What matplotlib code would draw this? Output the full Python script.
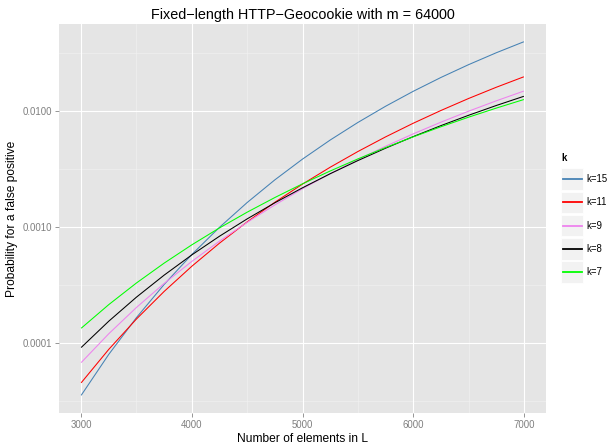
import matplotlib
matplotlib.use("Agg")
import matplotlib.pyplot as plt
from matplotlib.patches import Rectangle
from matplotlib.lines import Line2D
from matplotlib.ticker import FixedLocator, NullFormatter

plt.rcParams['font.family'] = ['Liberation Sans', 'DejaVu Sans']

# ---- data ----
n_elements = [3000, 3250, 3500, 3750, 4000, 4250, 4500, 4750, 5000,
              5250, 5500, 5750, 6000, 6250, 6500, 6750, 7000]
k15 = [3.539e-5, 7.990e-5, 1.657e-4, 3.197e-4, 5.791e-4, 9.935e-4, 1.624e-3, 2.546e-3, 3.844e-3,
       5.611e-3, 7.949e-3, 1.096e-2, 1.475e-2, 1.941e-2, 2.503e-2, 3.169e-2, 3.946e-2]
k11 = [4.538e-5, 8.826e-5, 1.611e-4, 2.783e-4, 4.587e-4, 7.254e-4, 1.106e-3, 1.632e-3, 2.341e-3,
       3.271e-3, 4.466e-3, 5.969e-3, 7.827e-3, 1.008e-2, 1.279e-2, 1.598e-2, 1.969e-2]
k9 = [6.778e-5, 1.203e-4, 2.026e-4, 3.262e-4, 5.049e-4, 7.552e-4, 1.096e-3, 1.548e-3, 2.135e-3,
      2.881e-3, 3.813e-3, 4.957e-3, 6.342e-3, 7.995e-3, 9.943e-3, 1.221e-2, 1.483e-2]
k8 = [9.144e-5, 1.543e-4, 2.486e-4, 3.846e-4, 5.745e-4, 8.323e-4, 1.174e-3, 1.615e-3, 2.176e-3,
      2.875e-3, 3.733e-3, 4.770e-3, 6.007e-3, 7.466e-3, 9.166e-3, 1.113e-2, 1.337e-2]
k7 = [1.340e-4, 2.144e-4, 3.293e-4, 4.881e-4, 7.016e-4, 9.815e-4, 1.341e-3, 1.793e-3, 2.354e-3,
      3.036e-3, 3.857e-3, 4.832e-3, 5.975e-3, 7.302e-3, 8.829e-3, 1.057e-2, 1.254e-2]

series_labels = ["k=15", "k=11", "k=9", "k=8", "k=7"]
series_values = [k15, k11, k9, k8, k7]
series_colors = ["#4682B4", "#FF0000", "#EE82EE", "#000000", "#00FF00"]

x_ticks = [3000, 4000, 5000, 6000, 7000]
x_minor = [3500, 4500, 5500, 6500]
y_ticks = [1e-4, 1e-3, 1e-2]
y_tick_labels = ["0.0001", "0.0010", "0.0100"]
y_minor = [10 ** -4.5, 10 ** -3.5, 10 ** -2.5, 10 ** -1.5]

W, H, DPI = 609, 445, 72
fig = plt.figure(figsize=(W / DPI, H / DPI), dpi=DPI)
fig.patch.set_facecolor("white")

# panel in pixel coordinates
pl, pr, pt, pb = 59, 546, 24, 413
ax = fig.add_axes([pl / W, (H - pb) / H, (pr - pl) / W, (pb - pt) / H])
ax.set_facecolor("#E5E5E5")
for s in ax.spines.values():
    s.set_visible(False)

ax.set_yscale("log")
ax.set_xlim(2800, 7200)
ax.set_ylim(10 ** -4.603, 10 ** -1.251)

# grid
for xm in x_minor:
    ax.axvline(xm, color="#F2F2F2", lw=0.6, zorder=0.5)
for ym in y_minor:
    ax.axhline(ym, color="#F2F2F2", lw=0.6, zorder=0.5)
for xt in x_ticks:
    ax.axvline(xt, color="white", lw=1.1, zorder=0.6)
for yt in y_ticks:
    ax.axhline(yt, color="white", lw=1.1, zorder=0.6)

for vals, col in zip(series_values, series_colors):
    ax.plot(n_elements, vals, color=col, lw=1.05, zorder=2, solid_capstyle="butt")

ax.xaxis.set_major_locator(FixedLocator(x_ticks))
ax.set_xticklabels([str(v) for v in x_ticks])
ax.yaxis.set_major_locator(FixedLocator(y_ticks))
ax.set_yticklabels(y_tick_labels)
ax.yaxis.set_minor_locator(FixedLocator([]))
ax.yaxis.set_minor_formatter(NullFormatter())
ax.tick_params(axis="both", which="major", length=4, width=0.8, color="#7F7F7F",
               labelcolor="#7F7F7F", labelsize=9.6, pad=2.5)

ax.set_xlabel("Number of elements in L", fontsize=12, labelpad=3)
ax.set_ylabel("Probability for a false positive", fontsize=12, labelpad=5)
ax.set_title("Fixed\u2212length HTTP\u2212Geocookie with m = 64000", fontsize=14.4, pad=5)

# legend drawn manually in pixel coordinates
def px(x, y):
    return x / W, 1 - y / H

fig.text(*px(561, 158), "k", fontsize=9.6, fontweight="bold", ha="left", va="center")
key_x0, key_w, key_h, pitch, first_c = 561, 22.3, 21.5, 23.3, 179
for i, (lab, col) in enumerate(zip(series_labels, series_colors)):
    cy = first_c + i * pitch
    x0, y0 = px(key_x0, cy + key_h / 2)
    fig.patches.append(Rectangle((x0, y0), key_w / W, key_h / H, transform=fig.transFigure,
                                 facecolor="#F2F2F2", edgecolor="white", lw=0.8))
    lx0, ly = px(key_x0 + 1.7, cy)
    lx1, _ = px(key_x0 + key_w - 1.7, cy)
    fig.lines.append(Line2D([lx0, lx1], [ly, ly], transform=fig.transFigure, color=col, lw=1.8))
    fig.text(*px(586.5, cy), lab, fontsize=9.6, ha="left", va="center", color="black")

fig.savefig("out.png", dpi=DPI, facecolor="white")
